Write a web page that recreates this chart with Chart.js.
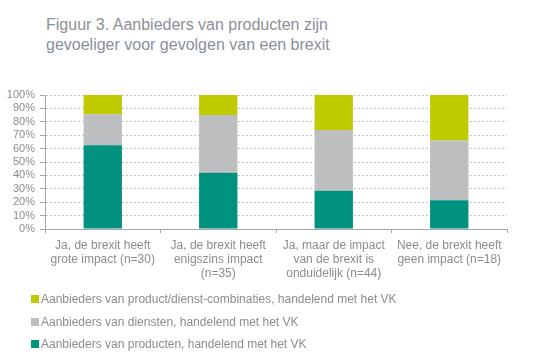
<!DOCTYPE html>
<html>
<head>
<meta charset="utf-8">
<script src="https://cdn.jsdelivr.net/npm/chart.js@4"></script>
<style>
    body { margin: 0; background: #fff; font-family: "Liberation Sans", Arial, sans-serif; }
    #wrap { position: relative; width: 551px; height: 360px; }
    #title { position: absolute; left: 46px; top: 15px; font-size: 16px; line-height: 20px; color: #8a9099; }
    #chartBox { position: absolute; left: 0; top: 0; width: 551px; height: 290px; }
    #legend { position: absolute; left: 31px; top: 288px; font-size: 12px; color: #8c8c8c; }
    .item { height: 22.5px; line-height: 22px; white-space: nowrap; }
    .box { display: inline-block; width: 8px; height: 8px; margin-right: 2px; vertical-align: 0px; }
</style>
</head>
<body>
<div id="wrap">
    <div id="title">Figuur 3. Aanbieders van producten zijn<br>gevoeliger voor gevolgen van een brexit</div>
    <div id="chartBox"><canvas id="mainChart" width="551" height="290"></canvas></div>
    <div id="legend"></div>
</div>
<script>
// ========== Data ==========
const categories = [
    ['Ja, de brexit heeft', 'grote impact (n=30)'],
    ['Ja, de brexit heeft', 'enigszins impact', '(n=35)'],
    ['Ja, maar de impact', 'van de brexit is', 'onduidelijk (n=44)'],
    ['Nee, de brexit heeft', 'geen impact (n=18)']
];
const seriesNames = [
    'Aanbieders van producten, handelend met het VK',
    'Aanbieders van diensten, handelend met het VK',
    'Aanbieders van product/dienst-combinaties, handelend met het VK'
];
const productValues = [62.5, 42, 28.5, 21.5];
const serviceValues = [23.2, 43, 45.3, 44.5];
const comboValues = [14.3, 15, 26.2, 34];
const seriesColors = ['#00917f', '#bcbec0', '#c0ca00'];
const yTicks = [0, 10, 20, 30, 40, 50, 60, 70, 80, 90, 100];

const axisColor = '#a6a6a6';
const textColor = '#8c8c8c';

// datasets (onderste eerst)
const allValues = [productValues, serviceValues, comboValues];
const datasets = [];
for (let i = 0; i < allValues.length; i++) {
    datasets.push({
        label: seriesNames[i],
        data: allValues[i],
        backgroundColor: seriesColors[i],
        barPercentage: 0.332,
        categoryPercentage: 1
    });
}

const ctx = document.getElementById('mainChart');
new Chart(ctx, {
    type: 'bar',
    data: { labels: categories, datasets: datasets },
    options: {
        responsive: false,
        animation: false,
        layout: { padding: { left: 0, right: 44, top: 95, bottom: 0 } },
        plugins: { legend: { display: false }, title: { display: false }, tooltip: { enabled: false } },
        scales: {
            x: {
                stacked: true,
                afterFit: function (scale) { scale.height = 61; },
                grid: { offset: true, drawOnChartArea: false, drawTicks: true, tickLength: 4, tickColor: axisColor },
                border: { color: axisColor },
                ticks: {
                    color: textColor,
                    font: { family: 'Liberation Sans', size: 12, lineHeight: 1.2 },
                    padding: 5,
                    maxRotation: 0,
                    autoSkip: false
                }
            },
            y: {
                stacked: true,
                min: 0,
                max: 100,
                afterFit: function (scale) { scale.width = 45; },
                afterBuildTicks: function (scale) {
                    scale.ticks = yTicks.map(function (v) { return { value: v }; });
                },
                grid: { color: '#c4c4c4', tickColor: axisColor, tickLength: 5, tickBorderDash: [] },
                border: { color: axisColor, dash: [2, 2] },
                ticks: {
                    color: textColor,
                    font: { family: 'Liberation Sans', size: 11 },
                    padding: 5,
                    autoSkip: false,
                    callback: function (v) { return v + '%'; }
                }
            }
        }
    }
});

// legenda (omgekeerde volgorde)
let html = '';
for (let i = seriesNames.length - 1; i >= 0; i--) {
    html += '<div class="item"><span class="box" style="background:' + seriesColors[i] + '"></span>' + seriesNames[i] + '</div>';
}
document.getElementById('legend').innerHTML = html;
</script>
</body>
</html>
